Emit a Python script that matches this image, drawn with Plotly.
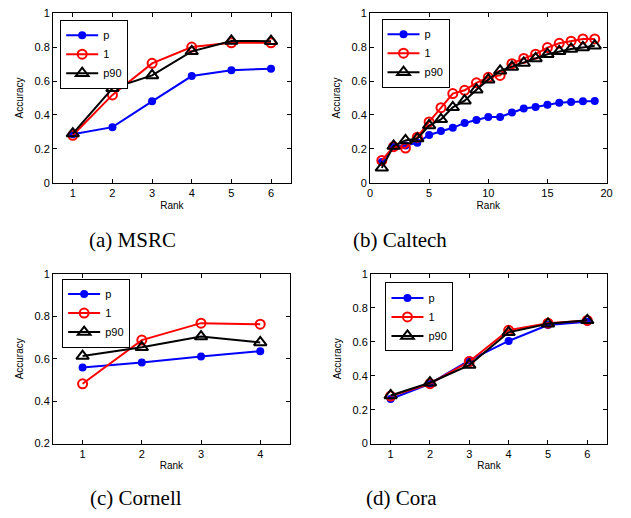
import plotly.graph_objects as go

# ---------------- data ----------------
series_names = ["p", "1", "p90"]

msrc_rank = [1, 2, 3, 4, 5, 6]
msrc_p = [0.286, 0.328, 0.480, 0.629, 0.664, 0.672]
msrc_1 = [0.280, 0.518, 0.704, 0.800, 0.825, 0.825]
msrc_p90 = [0.290, 0.557, 0.633, 0.775, 0.836, 0.835]

caltech_rank = list(range(1, 20))
caltech_p = [0.123, 0.215, 0.220, 0.236, 0.282, 0.305, 0.324, 0.353, 0.370, 0.388,
             0.388, 0.415, 0.438, 0.447, 0.460, 0.472, 0.476, 0.480, 0.482]
caltech_1 = [0.132, 0.213, 0.205, 0.269, 0.359, 0.443, 0.526, 0.545, 0.589, 0.622,
             0.633, 0.702, 0.733, 0.758, 0.797, 0.822, 0.835, 0.848, 0.848]
caltech_p90 = [0.088, 0.217, 0.250, 0.261, 0.338, 0.374, 0.445, 0.484, 0.549, 0.608,
               0.660, 0.683, 0.706, 0.733, 0.758, 0.775, 0.789, 0.798, 0.808]

cornell_rank = [1, 2, 3, 4]
cornell_p = [0.559, 0.582, 0.611, 0.636]
cornell_1 = [0.482, 0.688, 0.768, 0.763]
cornell_p90 = [0.613, 0.654, 0.705, 0.677]

cora_rank = [1, 2, 3, 4, 5, 6]
cora_p = [0.263, 0.353, 0.491, 0.605, 0.699, 0.718]
cora_1 = [0.280, 0.353, 0.484, 0.668, 0.710, 0.726]
cora_p90 = [0.284, 0.359, 0.463, 0.656, 0.706, 0.727]

captions = ["(a) MSRC", "(b) Caltech", "(c) Cornell", "(d) Cora"]
x_title = "Rank"
y_title = "Accuracy"

W, H = 631, 518

panels = [
    dict(x=msrc_rank, ys=[msrc_p, msrc_1, msrc_p90], xrange=[0.5, 6.5], yrange=[0, 1],
         xticks=[1, 2, 3, 4, 5, 6], yticks=[0, 0.2, 0.4, 0.6, 0.8, 1],
         box=(50.7, 292, 7.3, 181), legend=(58, 14), cap=(131, 240)),
    dict(x=caltech_rank, ys=[caltech_p, caltech_1, caltech_p90], xrange=[0, 20], yrange=[0, 1],
         xticks=[0, 5, 10, 15, 20], yticks=[0, 0.2, 0.4, 0.6, 0.8, 1],
         box=(372.3, 612.3, 7.3, 181), legend=(384, 13), cap=(403, 240)),
    dict(x=cornell_rank, ys=[cornell_p, cornell_1, cornell_p90], xrange=[0.5, 4.5], yrange=[0.2, 1],
         xticks=[1, 2, 3, 4], yticks=[0.2, 0.4, 0.6, 0.8, 1],
         box=(50.7, 291, 274.3, 448), legend=(60, 279), cap=(135, 504)),
    dict(x=cora_rank, ys=[cora_p, cora_1, cora_p90], xrange=[0.5, 6.5], yrange=[0, 1],
         xticks=[1, 2, 3, 4, 5, 6], yticks=[0, 0.2, 0.4, 0.6, 0.8, 1],
         box=(373.3, 612.7, 274.3, 448), legend=(388, 283), cap=(404, 504)),
]

styles = [
    dict(color="#0000ff", symbol="circle", size=8, mlw=0),
    dict(color="#ff0000", symbol="circle-open", size=9, mlw=2),
    dict(color="#000000", symbol="triangle-up-open", size=11, mlw=2),
]

fig = go.Figure()
layout = dict(width=W, height=H, margin=dict(l=0, r=0, t=0, b=0),
              paper_bgcolor="white", plot_bgcolor="white",
              font=dict(family="Liberation Sans, Arial, sans-serif", size=11, color="black"))
annotations = []

for i, pn in enumerate(panels):
    k = i + 1
    xa = "x" if k == 1 else f"x{k}"
    ya = "y" if k == 1 else f"y{k}"
    lg = "legend" if k == 1 else f"legend{k}"
    for name, ys, st in zip(series_names, pn["ys"], styles):
        fig.add_trace(go.Scatter(
            x=pn["x"], y=ys, name=name, mode="lines+markers", xaxis=xa, yaxis=ya,
            legend=lg,
            line=dict(color=st["color"], width=2),
            marker=dict(symbol=st["symbol"], size=st["size"], color=st["color"],
                        line=dict(color=st["color"], width=st["mlw"])),
        ))
    x0, x1, y0, y1 = pn["box"]
    axcommon = dict(showgrid=False, zeroline=False, showline=True, linecolor="black",
                    linewidth=1, mirror="ticks", ticks="inside", ticklen=4,
                    tickcolor="black", tickfont=dict(size=11))
    layout["xaxis" if k == 1 else f"xaxis{k}"] = dict(
        domain=[x0 / W, x1 / W], range=pn["xrange"], tickvals=pn["xticks"],
        anchor=ya, title=dict(text=x_title, font=dict(size=10), standoff=3), **axcommon)
    layout["yaxis" if k == 1 else f"yaxis{k}"] = dict(
        domain=[1 - y1 / H, 1 - y0 / H], range=pn["yrange"], tickvals=pn["yticks"],
        ticktext=[("%g" % v) for v in pn["yticks"]],
        anchor=xa, title=dict(text=y_title, font=dict(size=10), standoff=8), **axcommon)
    lx, ly = pn["legend"]
    layout[lg] = dict(x=lx / W, y=1 - ly / H, xanchor="left", yanchor="top",
                      bgcolor="white", bordercolor="black", borderwidth=1,
                      font=dict(size=11), tracegroupgap=0, itemwidth=32)
    annotations.append(dict(text=captions[i], x=pn["cap"][0] / W, y=1 - pn["cap"][1] / H,
                            xref="paper", yref="paper", showarrow=False,
                            xanchor="center", yanchor="middle",
                            font=dict(family="Liberation Serif, Times New Roman, serif", size=21)))

layout["annotations"] = annotations
layout["showlegend"] = True
fig.update_layout(**layout)
fig.write_html("out.html")
